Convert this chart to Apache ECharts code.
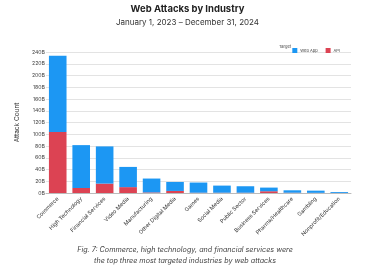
<!DOCTYPE html>
<html>
<head>
<meta charset="utf-8">
<script src="https://cdn.jsdelivr.net/npm/echarts@6/dist/echarts.min.js"></script>
<style>
  html, body { margin: 0; padding: 0; background: #fff; }
  #chart { width: 375px; height: 271px; }
</style>
</head>
<body>
<div id="chart"></div>
<script>
// industries, values in billions
const categories = ['Commerce', 'High Technology', 'Financial Services', 'Video Media', 'Manufacturing',
  'Other Digital Media', 'Games', 'Social Media', 'Public Sector', 'Business Services',
  'Pharma/Healthcare', 'Gambling', 'Nonprofit/Education']
const apiValues = [104, 8.5, 16, 10, 1, 3.5, 0.5, 0.5, 0.5, 3, 0.5, 0.3, 0.2]
const webAppValues = [129.7, 73, 63.3, 34.4, 23.6, 15.3, 17.3, 12.1, 11, 6.2, 4.1, 3.7, 1.5]
const yTicks = { min: 0, max: 240, interval: 20 }

const font = 'Inter, "Noto Sans", sans-serif'
const chart = echarts.init(document.getElementById('chart'))

chart.setOption({
  animation: false,
  textStyle: { fontFamily: font },
  title: {
    text: 'Web Attacks by Industry',
    subtext: 'January 1, 2023 – December 31, 2024',
    left: 'center',
    top: -1,
    itemGap: 5,
    textStyle: { fontSize: 9.5, fontWeight: 'bold', color: '#222', fontFamily: font },
    subtextStyle: { fontSize: 8, color: '#333', fontFamily: font }
  },
  legend: {
    data: ['Web App', 'API'],
    right: 30,
    top: 43,
    itemWidth: 5,
    itemHeight: 5,
    itemGap: 8,
    icon: 'rect',
    textStyle: { fontSize: 4, color: '#444', padding: [0, 0, 0, -2] }
  },
  grid: {
    left: 46,
    right: 24,
    top: 52,
    bottom: 78
  },
  xAxis: {
    type: 'category',
    data: categories,
    axisTick: { show: false },
    axisLine: { lineStyle: { color: '#bbb', width: 1 } },
    axisLabel: {
      interval: 0,
      rotate: 45,
      fontSize: 5.5,
      color: '#333',
      margin: 5
    }
  },
  yAxis: {
    type: 'value',
    min: yTicks.min,
    max: yTicks.max,
    interval: yTicks.interval,
    name: 'Attack Count',
    nameLocation: 'middle',
    nameGap: 20,
    nameTextStyle: { fontSize: 6.5, color: '#333' },
    axisLine: { show: false },
    axisTick: { show: false },
    splitLine: { lineStyle: { color: '#e3e3e3', width: 1 } },
    axisLabel: {
      fontSize: 5.2,
      color: '#444',
      margin: 1,
      formatter: v => v + 'B'
    }
  },
  series: [{
    name: 'API',
    type: 'bar',
    stack: 'total',
    barCategoryGap: '25%',
    itemStyle: { color: '#DC4353' },
    data: apiValues
  }, {
    name: 'Web App',
    type: 'bar',
    stack: 'total',
    barCategoryGap: '25%',
    itemStyle: { color: '#1C97F3' },
    data: webAppValues
  }],
  graphic: [{
    type: 'text',
    left: 279,
    top: 44.5,
    style: { text: 'Target', fontSize: 4, fill: '#444', fontFamily: font }
  }, {
    type: 'text',
    x: 185,
    y: 244,
    style: {
      text: 'Fig. 7: Commerce, high technology, and financial services were\nthe top three most targeted industries by web attacks',
      fontSize: 7.2,
      fontStyle: 'italic',
      lineHeight: 11,
      align: 'center',
      fill: '#444',
      fontFamily: font
    }
  }]
})
</script>
</body>
</html>
